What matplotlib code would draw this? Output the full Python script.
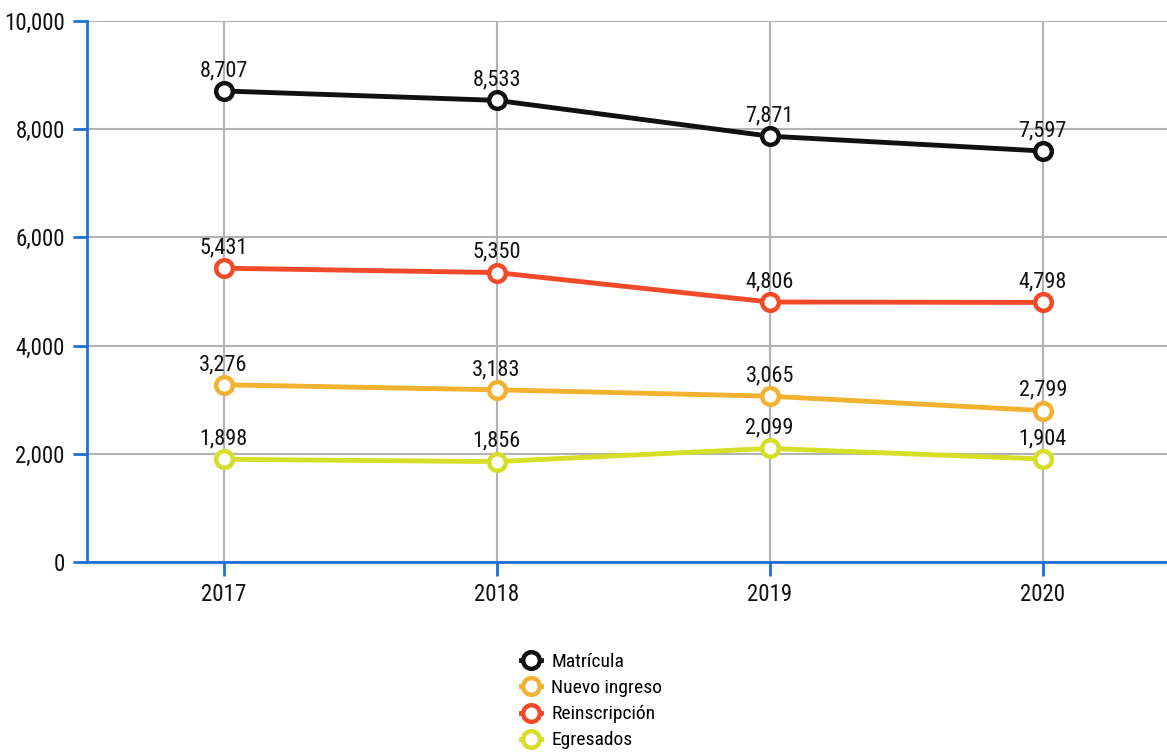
import matplotlib
matplotlib.use("Agg")
import matplotlib.pyplot as plt
from matplotlib import font_manager

years = ["2017", "2018", "2019", "2020"]
matricula = [8707, 8533, 7871, 7597]
nuevo_ingreso = [3276, 3183, 3065, 2799]
reinscripcion = [5431, 5350, 4806, 4798]
egresados = [1898, 1856, 2099, 1904]
yticks = [0, 2000, 4000, 6000, 8000, 10000]

series = [
    ("Matrícula", matricula, "#111111"),
    ("Nuevo ingreso", nuevo_ingreso, "#F2B12F"),
    ("Reinscripción", reinscripcion, "#F24A28"),
    ("Egresados", egresados, "#D6DE25"),
]

avail = {f.name for f in font_manager.fontManager.ttflist}
fams = [f for f in ["Roboto Condensed", "Liberation Sans Narrow", "DejaVu Sans Condensed", "Roboto", "DejaVu Sans"] if f in avail]
plt.rcParams["font.family"] = fams

fig = plt.figure(figsize=(11.67, 7.52), dpi=100)
ax = fig.add_axes([87/1167, 1-562/752, 1-87/1167, (562-21)/752])

x = list(range(len(years)))
for name, vals, col in series:
    ax.plot(x, vals, color=col, lw=3.5, marker="o", ms=12, mfc="white",
            mec=col, mew=3.2, label=name, zorder=3, clip_on=False)
    for xi, v in zip(x, vals):
        ax.annotate(f"{v:,}", (xi, v), xytext=(0, 7), textcoords="offset points",
                    ha="center", va="bottom", fontsize=16, color="#111111")

ax.set_xlim(-0.5, 3.455)
ax.set_ylim(0, 10000)
ax.set_xticks(x)
ax.set_xticklabels(years)
ax.set_yticks(yticks)
ax.set_yticklabels([f"{t:,}" for t in yticks])
ax.tick_params(axis="both", labelsize=16.5, color="#1F6FD6", length=10, width=2, labelcolor="#111111")
ax.tick_params(axis="y", pad=6)
ax.tick_params(axis="x", pad=5)
ax.grid(True, color="#B3B3B3", lw=1.5, zorder=0)
ax.set_axisbelow(True)
for s in ["top", "right"]:
    ax.spines[s].set_visible(False)
for s in ["left", "bottom"]:
    ax.spines[s].set_color("#1F6FD6")
    ax.spines[s].set_linewidth(2)

fig.legend(loc="upper center", bbox_to_anchor=(0.507, 0.142), frameon=False,
           fontsize=14, handlelength=1.0, handletextpad=0.55, labelspacing=0.42,
           borderaxespad=0)

fig.savefig("out.png", dpi=100)
